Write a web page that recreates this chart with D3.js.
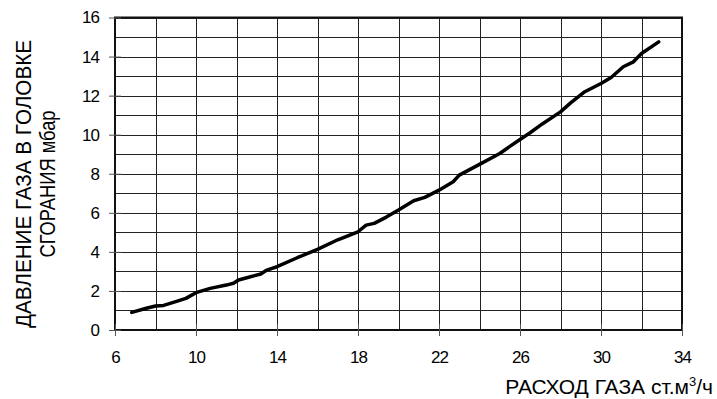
<!DOCTYPE html>
<html>
<head>
<meta charset="utf-8">
<script src="https://cdn.jsdelivr.net/npm/d3@7"></script>
<style>
  body { margin: 0; background: #fff; }
  svg { display: block; font-family: "Liberation Sans", Arial, sans-serif; }
</style>
</head>
<body>
<svg width="717" height="399"></svg>
<script>
// расход газа (м3/ч) и давление (мбар)
const flow = [6.83, 7.5, 8.0, 8.4, 9.0, 9.5, 10.0, 10.7, 11.5, 11.85, 12.1, 12.6, 13.2, 13.5, 14.0,
  15.0, 16.0, 17.0, 18.0, 18.4, 18.8, 19.4, 20.0, 20.75, 21.3, 22.0, 22.7, 23.0, 24.0, 25.0,
  25.5, 26.0, 26.5, 27.1, 28.0, 28.5, 29.2, 30.0, 30.5, 31.1, 31.6, 32.0, 32.85];
const pressure = [0.9, 1.1, 1.23, 1.26, 1.45, 1.62, 1.91, 2.13, 2.3, 2.39, 2.56, 2.7, 2.87, 3.07, 3.24,
  3.7, 4.13, 4.62, 5.03, 5.37, 5.46, 5.78, 6.14, 6.62, 6.79, 7.16, 7.59, 7.93, 8.48, 9.04,
  9.4, 9.75, 10.1, 10.55, 11.17, 11.63, 12.2, 12.62, 12.93, 13.48, 13.73, 14.16, 14.75];

const xTicks = [6, 10, 14, 18, 22, 26, 30, 34];
const yTicks = [0, 2, 4, 6, 8, 10, 12, 14, 16];
const xGrid = d3.range(6, 35, 2);
const yGrid = d3.range(0, 17, 1);

const yTitle = ["ДАВЛЕНИЕ ГАЗА В ГОЛОВКЕ", "СГОРАНИЯ мбар"];

const svg = d3.select("svg");
const margin = { top: 17.5, right: 35, bottom: 69, left: 115 };
const width = +svg.attr("width");
const height = +svg.attr("height");

const x = d3.scaleLinear().domain([6, 34]).range([margin.left, width - margin.right]);
const y = d3.scaleLinear().domain([0, 16]).range([height - margin.bottom, margin.top]);

const data = flow.map((f, i) => ({ f: f, p: pressure[i] }));

// сетка
svg.append("g")
  .selectAll("line")
  .data(xGrid)
  .join("line")
  .attr("x1", d => Math.round(x(d)) + 0.5)
  .attr("x2", d => Math.round(x(d)) + 0.5)
  .attr("y1", y(16))
  .attr("y2", y(0))
  .attr("stroke", "#222")
  .attr("stroke-width", 1);

svg.append("g")
  .selectAll("line")
  .data(yGrid)
  .join("line")
  .attr("x1", x(6))
  .attr("x2", x(34))
  .attr("y1", d => Math.round(y(d)) + 0.5)
  .attr("y2", d => Math.round(y(d)) + 0.5)
  .attr("stroke", "#222")
  .attr("stroke-width", 1);

// рамка
svg.append("rect")
  .attr("x", x(6))
  .attr("y", y(16))
  .attr("width", x(34) - x(6))
  .attr("height", y(0) - y(16))
  .attr("fill", "none")
  .attr("stroke", "#111")
  .attr("stroke-width", 2);

// оси
const xAxis = svg.append("g")
  .attr("transform", `translate(0,${y(0)})`)
  .call(d3.axisBottom(x).tickValues(xTicks).tickSize(6).tickSizeOuter(0));
xAxis.select(".domain").remove();
xAxis.selectAll(".tick line").attr("y1", -6).attr("stroke", "#555");
xAxis.selectAll(".tick text")
  .attr("y", 33)
  .attr("dy", 0)
  .attr("fill", "#000")
  .style("font-size", "17px")
  .style("letter-spacing", "-1px");

const yAxis = svg.append("g")
  .attr("transform", `translate(${x(6)},0)`)
  .call(d3.axisLeft(y).tickValues(yTicks).tickSize(6).tickSizeOuter(0));
yAxis.select(".domain").remove();
yAxis.selectAll(".tick line").attr("x1", 6).attr("x2", -6).attr("stroke", "#555");
yAxis.selectAll(".tick text")
  .attr("x", -16)
  .attr("fill", "#000")
  .style("font-size", "17px")
  .style("letter-spacing", "-1px");

// кривая
const line = d3.line()
  .x(d => x(d.f))
  .y(d => y(d.p));

svg.append("path")
  .datum(data)
  .attr("d", line)
  .attr("fill", "none")
  .attr("stroke", "#000")
  .attr("stroke-width", 3.5)
  .attr("stroke-linejoin", "round")
  .attr("stroke-linecap", "round");

// подписи осей
const xt = svg.append("text")
  .attr("x", 713)
  .attr("y", 394)
  .attr("text-anchor", "end")
  .style("font-size", "21px")
  .attr("fill", "#000");
xt.append("tspan").text("РАСХОД ГАЗА ст.м");
xt.append("tspan").attr("dy", -8).style("font-size", "13px").text("3");
xt.append("tspan").attr("dy", 8).text("/ч");

const yTitleLen = [288, 147];
svg.append("g")
  .attr("transform", "translate(30.7,184) rotate(-90)")
  .selectAll("text")
  .data(yTitle)
  .join("text")
  .attr("x", 0)
  .attr("y", (d, i) => i * 24)
  .attr("text-anchor", "middle")
  .attr("textLength", (d, i) => yTitleLen[i])
  .attr("lengthAdjust", "spacingAndGlyphs")
  .style("font-size", "22px")
  .attr("fill", "#000")
  .text(d => d);
</script>
</body>
</html>
